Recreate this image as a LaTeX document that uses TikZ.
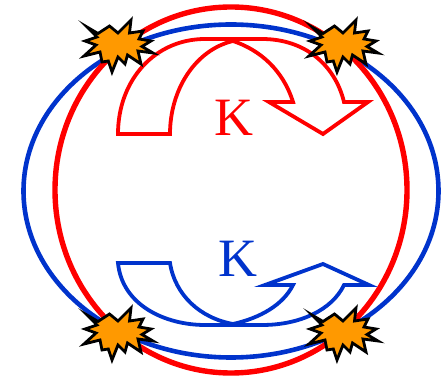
\documentclass[tikz,border=0pt]{standalone}
\usepackage{fontspec}
\setmainfont{Liberation Serif}
\definecolor{kred}{RGB}{255,0,0}
\definecolor{kblue}{RGB}{0,51,204}
\definecolor{korange}{RGB}{255,153,0}
\tikzset{
  ringred/.style={draw=kred,line width=5.4pt},
  ringblue/.style={draw=kblue,line width=4.6pt},
  arrowred/.style={draw=kred,line width=3.8pt,miter limit=10},
  arrowblue/.style={draw=kblue,line width=3.8pt,miter limit=10},
  klabel/.style={font=\fontsize{54}{54}\selectfont,inner sep=0pt},
  burst/.pic={
    \draw[fill=korange,draw=black,line width=2.8pt,line join=miter,miter limit=40]
      (-31,-16) -- (-20,-9.5) -- (-8.5,-17) -- (0,-10) -- (13,-23) -- (11.5,-10) -- (25,-12) -- (21,-4)
      -- (33,-2) -- (24,3.5) -- (35,10) -- (20,8) -- (23,21) -- (9.5,12) -- (7,21) -- (0,14)
      -- (-6,29) -- (-9.7,18) -- (-16,19) -- (-18,9) -- (-34,13) -- (-22,2) -- (-33,-2) -- (-21,-6) -- cycle;
  }
}
\begin{document}
\begin{tikzpicture}[x=1pt,y=-1pt]
\useasboundingbox (0,0) rectangle (445,379);
% rings
\draw[ringblue] (231,191) ellipse [x radius=207.5,y radius=166.5];
\draw[ringred] (231,190) ellipse [x radius=176,y radius=183];
% red arrow
\draw[arrowred] (118,134) .. controls (118,80) and (155,39) .. (205,39) -- (262,39)
  .. controls (305,39) and (335,65) .. (344,102) -- (368,102) -- (323,134) -- (269,102) -- (293,102)
  .. controls (283,70) and (260,50) .. (233,41) .. controls (195,50) and (170,90) .. (170,134) -- cycle;
% blue arrow
\draw[arrowblue] (118,263) .. controls (122,305) and (165,325) .. (205,325) -- (262,325)
  .. controls (300,325) and (332,310) .. (344,285) -- (369,285) -- (323,264) -- (265,285) -- (293,285)
  .. controls (283,305) and (260,318) .. (233,324) .. controls (200,318) and (175,295) .. (170,263) -- cycle;
% labels
\node[klabel,text=kred] (kr) at (234,118) {K};
\node[klabel,text=kblue] (kb) at (238,259) {K};
% bursts
\pic at (118,43) {burst};
\pic at (343,43) {burst};
\pic at (118,331) {burst};
\pic at (343,331) {burst};
\end{tikzpicture}
\end{document}
